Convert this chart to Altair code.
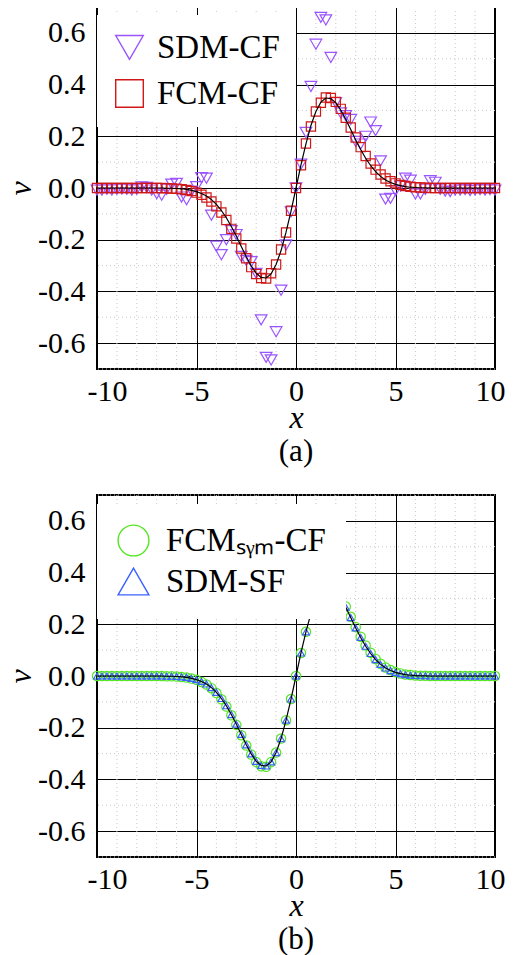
import altair as alt
import pandas as pd

X = [-10.0, -9.75, -9.5, -9.25, -9.0, -8.75, -8.5, -8.25, -8.0, -7.75, -7.5, -7.25,
     -7.0, -6.75, -6.5, -6.25, -6.0, -5.75, -5.5, -5.25, -5.0, -4.75, -4.5, -4.25,
     -4.0, -3.75, -3.5, -3.25, -3.0, -2.75, -2.5, -2.25, -2.0, -1.75, -1.5, -1.25,
     -1.0, -0.75, -0.5, -0.25, 0.0, 0.25, 0.5, 0.75, 1.0, 1.25, 1.5, 1.75, 2.0,
     2.25, 2.5, 2.75, 3.0, 3.25, 3.5, 3.75, 4.0, 4.25, 4.5, 4.75, 5.0, 5.25, 5.5,
     5.75, 6.0, 6.25, 6.5, 6.75, 7.0, 7.25, 7.5, 7.75, 8.0, 8.25, 8.5, 8.75, 9.0,
     9.25, 9.5, 9.75, 10.0]

EXACT = [0.0, 0.0, 0.0, 0.0, 0.0, 0.0, 0.0, 0.0, 0.0, 0.0, 0.0, 0.0,
         0.0, 0.0, -0.001, -0.001, -0.002, -0.003, -0.005, -0.009, -0.014, -0.021, -0.031, -0.045,
         -0.063, -0.087, -0.115, -0.149, -0.186, -0.226, -0.266, -0.301, -0.330, -0.346, -0.348, -0.332,
         -0.296, -0.242, -0.171, -0.089, 0.0, 0.089, 0.171, 0.242, 0.296, 0.332, 0.348, 0.346, 0.330,
         0.301, 0.266, 0.226, 0.186, 0.149, 0.115, 0.087, 0.063, 0.045, 0.031, 0.021, 0.014, 0.009, 0.005,
         0.003, 0.002, 0.001, 0.001, 0.0, 0.0, 0.0, 0.0, 0.0, 0.0, 0.0, 0.0, 0.0, 0.0,
         0.0, 0.0, 0.0, 0.0]

SDM_CF = [-0.008, -0.008, -0.005, -0.008, -0.005, -0.004, -0.005, -0.008, -0.005, 0.004, 0.002, -0.008,
          -0.022, -0.028, -0.005, 0.015, 0.018, -0.035, -0.045, -0.012, 0.005, 0.04, 0.038, -0.105,
          -0.225, -0.258, -0.20, -0.165, -0.18, -0.265, -0.28, -0.285, -0.33, -0.51, -0.655, -0.665,
          -0.556, -0.395, -0.22, -0.092, 0.0, 0.092, 0.215, 0.393, 0.556, 0.66, 0.65, 0.505, 0.33,
          0.29, 0.28, 0.265, 0.18, 0.17, 0.20, 0.255, 0.222, 0.105, -0.043, -0.04, -0.01, 0.008, 0.038,
          0.03, -0.023, -0.023, -0.005, 0.028, 0.022, -0.005, -0.012, -0.014, -0.008, -0.008, -0.006, -0.01, -0.008,
          -0.006, -0.008, -0.006, -0.008]

FCM_CF = [0.0, 0.0, 0.0, 0.0, 0.0, 0.0, 0.0, 0.0, 0.0, 0.0, 0.0, 0.0,
          0.0, 0.0, -0.001, -0.002, -0.003, -0.005, -0.008, -0.012, -0.018, -0.026, -0.037, -0.052,
          -0.071, -0.095, -0.124, -0.158, -0.195, -0.234, -0.272, -0.306, -0.333, -0.348, -0.350, -0.330,
          -0.296, -0.238, -0.172, -0.088, 0.0, 0.088, 0.172, 0.238, 0.296, 0.330, 0.350, 0.348, 0.333,
          0.306, 0.272, 0.234, 0.195, 0.158, 0.124, 0.095, 0.071, 0.052, 0.037, 0.026, 0.018, 0.012, 0.008,
          0.005, 0.003, 0.002, 0.001, 0.0, 0.0, 0.0, 0.0, 0.0, 0.0, 0.0, 0.0, 0.0, 0.0,
          0.0, 0.0, 0.0, 0.0]

FCM_SYM_CF = [0.0, 0.0, 0.0, 0.0, 0.0, 0.0, 0.0, 0.0, 0.0, 0.0, 0.0, 0.0,
              0.0, 0.0, -0.001, -0.001, -0.002, -0.004, -0.006, -0.010, -0.015, -0.023, -0.033, -0.047,
              -0.066, -0.090, -0.118, -0.152, -0.189, -0.229, -0.269, -0.304, -0.333, -0.349, -0.351, -0.333,
              -0.296, -0.242, -0.171, -0.089, 0.0, 0.089, 0.171, 0.242, 0.296, 0.333, 0.351, 0.349, 0.333,
              0.304, 0.269, 0.229, 0.189, 0.152, 0.118, 0.090, 0.066, 0.047, 0.033, 0.023, 0.015, 0.010, 0.006,
              0.004, 0.002, 0.001, 0.001, 0.0, 0.0, 0.0, 0.0, 0.0, 0.0, 0.0, 0.0, 0.0, 0.0,
              0.0, 0.0, 0.0, 0.0]

SDM_SF = [0.0, 0.0, 0.0, 0.0, 0.0, 0.0, 0.0, 0.0, 0.0, 0.0, 0.0, 0.0,
          0.0, 0.0, -0.001, -0.001, -0.002, -0.003, -0.005, -0.009, -0.014, -0.021, -0.031, -0.045,
          -0.063, -0.087, -0.115, -0.149, -0.186, -0.226, -0.266, -0.301, -0.330, -0.346, -0.348, -0.332,
          -0.296, -0.242, -0.171, -0.089, 0.0, 0.089, 0.171, 0.242, 0.296, 0.332, 0.348, 0.346, 0.330,
          0.301, 0.266, 0.226, 0.186, 0.149, 0.115, 0.087, 0.063, 0.045, 0.031, 0.021, 0.014, 0.009, 0.005,
          0.003, 0.002, 0.001, 0.001, 0.0, 0.0, 0.0, 0.0, 0.0, 0.0, 0.0, 0.0, 0.0, 0.0,
          0.0, 0.0, 0.0, 0.0]

MAJOR_X = [-10, -5, 0, 5, 10]
MAJOR_Y = [-0.6, -0.4, -0.2, 0.0, 0.2, 0.4, 0.6]
MINOR_X = [-9, -8, -7, -6, -4, -3, -2, -1, 1, 2, 3, 4, 6, 7, 8, 9]
MINOR_Y = [-0.7, -0.5, -0.3, -0.1, 0.1, 0.3, 0.5, 0.7]

FONT = "serif"
FONT_EXPR = alt.ExprRef(expr="'serif'")
W, H = 398, 362

xscale = alt.Scale(domain=[-10, 10], nice=False, zero=False)
yscale = alt.Scale(domain=[-0.7, 0.7], nice=False, zero=False)
xaxis = alt.Axis(values=MAJOR_X, title="x", format="d",
                 labelExpr="replace(datum.label, '\u2212', '-')",
                 labelFont=FONT_EXPR, labelFontSize=30, titleFont=FONT_EXPR, titleFontSize=32,
                 titleFontStyle="italic", labelFlush=True, labelFlushOffset=10,
                 labelPadding=7, titlePadding=-4)
yaxis = alt.Axis(values=MAJOR_Y, title="v", format=".1f",
                 labelExpr="replace(datum.label, '\u2212', '-')",
                 labelFont=FONT_EXPR, labelFontSize=30, titleFont=FONT_EXPR, titleFontSize=32,
                 titleFontStyle="italic", labelFlush=False,
                 labelPadding=12, titlePadding=6, minExtent=54, maxExtent=54)


def panel(names, series, shapes, colors, sizes, caption, leg_size, leg_y, leg_pad, leg_row, leg_off):
    curve = pd.DataFrame({"x": X, "v": EXACT})
    xenc = alt.X("x:Q", scale=xscale, axis=xaxis)
    yenc = alt.Y("v:Q", scale=yscale, axis=yaxis)

    minor_x = alt.Chart(pd.DataFrame({"x": MINOR_X})).mark_rule(
        color="#c8c8c8", strokeDash=[1, 3], strokeWidth=1).encode(x=xenc)
    minor_y = alt.Chart(pd.DataFrame({"v": MINOR_Y})).mark_rule(
        color="#c8c8c8", strokeDash=[1, 3], strokeWidth=1).encode(y=yenc)

    leg = alt.Legend(title=None, orient="none", legendX=0, legendY=leg_y,
                     symbolSize=leg_size, symbolStrokeWidth=1.4,
                     labelFont=FONT, labelFontSize=33, labelColor="black",
                     labelOffset=leg_off, padding=leg_pad, rowPadding=leg_row,
                     fillColor="white")
    layers = [minor_x, minor_y]
    for name, vals, sz in zip(names, series, sizes):
        df = pd.DataFrame({"x": X, "v": vals, "series": [name] * len(X)})
        layers.append(
            alt.Chart(df).mark_point(filled=False, strokeWidth=1.2, opacity=1, size=sz).encode(
                x=xenc, y=yenc,
                shape=alt.Shape("series:N", scale=alt.Scale(domain=names, range=shapes), legend=leg),
                color=alt.Color("series:N", scale=alt.Scale(domain=names, range=colors), legend=leg),
            )
        )
    layers.append(alt.Chart(curve).mark_line(color="black", strokeWidth=1.2).encode(x=xenc, y=yenc))
    return alt.layer(*layers).properties(
        width=W, height=H,
        title=alt.TitleParams(caption, orient="bottom", font=FONT, fontSize=31,
                              fontWeight="normal", color="black", offset=4),
    )


pa = panel(["SDM-CF", "FCM-CF"], [SDM_CF, FCM_CF], ["triangle-down", "square"],
           ["#9a55ff", "#d01818"], [136, 85], "(a)", 760, 8, 16, 11, 11)
pb = panel(["FCM\u209b\u1d67\u2098-CF", "SDM-SF"], [FCM_SYM_CF, SDM_SF], ["circle", "triangle-up"],
           ["#55e622", "#3a62ff"], [87, 48], "(b)", 950, 9, 20, 6, 16)

chart = alt.vconcat(pa, pb, spacing=25).resolve_scale(
    shape="independent", color="independent"
).resolve_legend(shape="independent", color="independent").configure(
    font=FONT,
    style={"guide-label": {"font": FONT}, "guide-title": {"font": FONT}},
).configure_view(
    stroke="black", strokeWidth=2
).configure_axis(
    domain=False, ticks=False, tickSize=0, grid=True, gridColor="black", gridWidth=1,
    labelFont=FONT, labelFontSize=30, labelColor="black",
    titleFont=FONT, titleFontSize=32, titleFontStyle="italic",
    titleFontWeight="normal", titleColor="black",
).configure_legend(labelFont=FONT).configure_title(font=FONT).properties(
    padding={"left": -5, "top": -3, "right": 0, "bottom": 0})

chart.save("out.html", embed_options={"renderer": "svg", "actions": False})
